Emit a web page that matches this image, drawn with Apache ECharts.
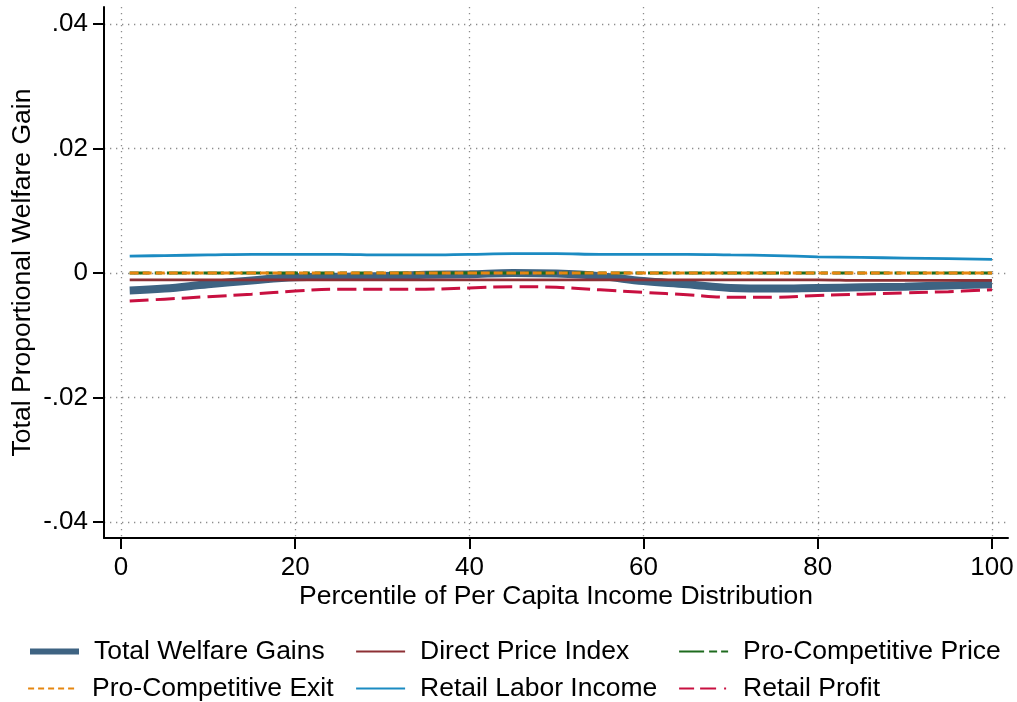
<!DOCTYPE html>
<html>
<head>
<meta charset="utf-8">
<script src="https://cdn.jsdelivr.net/npm/echarts@6/dist/echarts.min.js"></script>
<style>
  html, body { margin: 0; padding: 0; background: #fff; }
  #chart { width: 1017px; height: 702px; }
</style>
</head>
<body>
<div id="chart"></div>
<script>
// Percentile positions where each curve is sampled
const percentiles = [1, 5, 10, 15, 20, 25, 30, 35, 40, 45, 50, 55, 60, 65, 70, 75, 80, 85, 90, 95, 100];

// Proportional welfare gain by component
const totalWelfare   = [-0.0028, -0.0025, -0.0018, -0.0012, -0.0007, -0.0006, -0.0005, -0.0003, -0.0002, 0.0000, -0.0001,
                        -0.0005, -0.0013, -0.0018, -0.0024, -0.0025, -0.0024, -0.0023, -0.0022, -0.0020, -0.0018];
const directPrice    = [-0.0011, -0.0011, -0.0011, -0.0011, -0.0011, -0.0011, -0.0011, -0.0011, -0.0011, -0.0011, -0.0011,
                        -0.0011, -0.0011, -0.0011, -0.0011, -0.0011, -0.0011, -0.0012, -0.0012, -0.0012, -0.0012];
const proCompPrice   = [0, 0, 0, 0, 0, 0, 0, 0, 0, 0, 0, 0, 0, 0, 0, 0, 0, 0, 0, 0, 0];
const proCompExit    = [0, 0, 0, 0, 0, 0, 0, 0, 0, 0, 0, 0, 0, 0, 0, 0, 0, 0, 0, 0, 0];
const retailLabor    = [0.0027, 0.0028, 0.0029, 0.0030, 0.0030, 0.0030, 0.0029, 0.0029, 0.0030, 0.0031, 0.0031,
                        0.0030, 0.0030, 0.0030, 0.0029, 0.0028, 0.0026, 0.0025, 0.0024, 0.0023, 0.0022];
const retailProfit   = [-0.0045, -0.0042, -0.0038, -0.0034, -0.0029, -0.0026, -0.0026, -0.0026, -0.0024, -0.0022, -0.0023,
                        -0.0027, -0.0031, -0.0035, -0.0039, -0.0039, -0.0036, -0.0034, -0.0032, -0.0030, -0.0027];

// Axis ticks and labels
const xTicks = [0, 20, 40, 60, 80, 100];
const yTicks = [-0.04, -0.02, 0, 0.02, 0.04];
const yTickLabels = ['-.04', '-.02', '0', '.02', '.04'];

const FONT = '"Liberation Sans", Arial, sans-serif';
const pairs = (ys) => percentiles.map((x, i) => [x, ys[i]]);

const seriesDefs = [
  { name: 'Total Welfare Gains',   data: totalWelfare, color: '#3e6382', width: 8,   type: 'solid',        legendWidth: 6 },
  { name: 'Direct Price Index',    data: directPrice,  color: '#8d3035', width: 2.8, type: 'solid',        legendWidth: 2.2 },
  { name: 'Pro-Competitive Price', data: proCompPrice, color: '#1e6b1e', width: 3,   type: [20, 5, 7, 5],  legendWidth: 2.2, legendType: [25, 5, 8, 4, 7, 10] },
  { name: 'Pro-Competitive Exit',  data: proCompExit,  color: '#e6860f', width: 3,   type: [9, 4],         legendWidth: 2.2, legendType: [6, 4] },
  { name: 'Retail Labor Income',   data: retailLabor,  color: '#1b8bc2', width: 2.8, type: 'solid',        legendWidth: 2.2 },
  { name: 'Retail Profit',         data: retailProfit, color: '#c81040', width: 3,   type: [19, 7],        legendWidth: 2.2, legendType: [15, 6, 16, 8, 2, 10] }
];

// legend cell positions (three columns, two rows)
const legendCells = [
  { left: 27,  top: 638 }, { left: 355, top: 638 }, { left: 678, top: 638 },
  { left: 27,  top: 675 }, { left: 355, top: 675 }, { left: 678, top: 675 }
];

const legends = seriesDefs.map((s, i) => ({
  left: legendCells[i].left,
  top: legendCells[i].top,
  padding: 0,
  itemWidth: 49,
  itemHeight: 26,
  selectedMode: false,
  data: [{
    name: s.name,
    lineStyle: { width: s.legendWidth, type: s.legendType || s.type, color: s.color, cap: 'butt' },
    itemStyle: { opacity: 0 }
  }],
  textStyle: { fontFamily: FONT, fontSize: 26.5, color: '#000', padding: [0, 0, 0, 10] }
}));

const gridLine = { show: true, lineStyle: { color: '#8c8c8c', width: 1.3, type: [1.3, 4.7] } };

const option = {
  backgroundColor: '#fff',
  animation: false,
  grid: { left: 104, right: 9, top: 7, bottom: 164, containLabel: false, outerBoundsMode: 'none' },
  legend: legends,
  xAxis: {
    type: 'value',
    min: -1.95,
    max: 101.84,
    name: 'Percentile of Per Capita Income Distribution',
    nameLocation: 'middle',
    nameGap: 45,
    nameMoveOverlap: false,
    nameTextStyle: { fontFamily: FONT, fontSize: 26.5, color: '#000' },
    axisLine: { show: true, onZero: false, lineStyle: { color: '#000', width: 2 } },
    axisTick: { show: true, length: 11, customValues: xTicks, lineStyle: { color: '#000', width: 2 } },
    axisLabel: { customValues: xTicks, margin: 17, fontFamily: FONT, fontSize: 26, color: '#000' },
    splitLine: gridLine
  },
  yAxis: {
    type: 'value',
    min: -0.04257,
    max: 0.04273,
    name: 'Total Proportional Welfare Gain',
    nameLocation: 'middle',
    nameGap: 68,
    nameMoveOverlap: false,
    nameTextStyle: { fontFamily: FONT, fontSize: 26.5, color: '#000' },
    axisLine: { show: true, onZero: false, lineStyle: { color: '#000', width: 2 } },
    axisTick: { show: true, length: 11, customValues: yTicks, lineStyle: { color: '#000', width: 2 } },
    axisLabel: {
      customValues: yTicks,
      margin: 16,
      fontFamily: FONT, fontSize: 26, color: '#000',
      formatter: (v) => {
        const idx = yTicks.findIndex(t => Math.abs(t - v) < 1e-9);
        return idx >= 0 ? yTickLabels[idx] : '';
      }
    },
    splitLine: gridLine
  },
  series: seriesDefs.map(s => ({
    name: s.name,
    type: 'line',
    data: pairs(s.data),
    smooth: 0.4,
    symbol: 'none',
    showSymbol: false,
    lineStyle: { color: s.color, width: s.width, type: s.type, cap: 'butt' },
    itemStyle: { color: s.color },
    emphasis: { disabled: true }
  }))
};

const chart = echarts.init(document.getElementById('chart'), null, { renderer: 'canvas' });
chart.setOption(option);
</script>
</body>
</html>
